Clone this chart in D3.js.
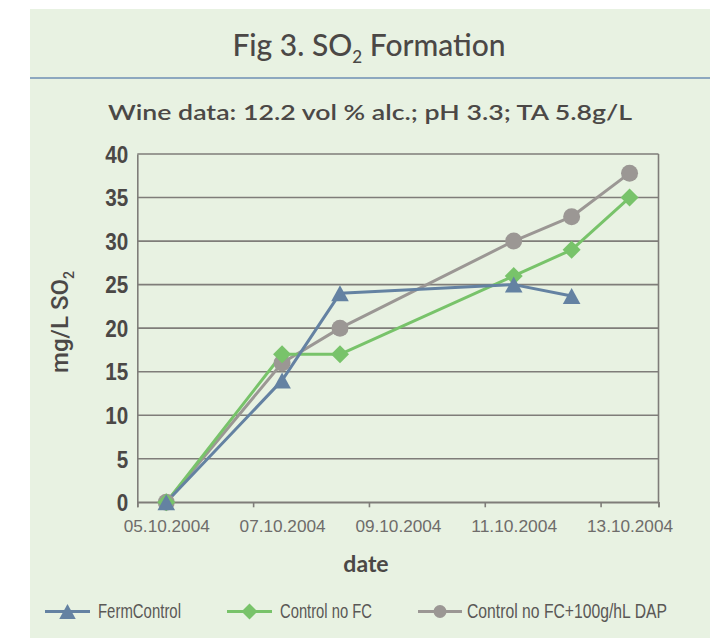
<!DOCTYPE html>
<html>
<head>
<meta charset="utf-8">
<script src="https://cdn.jsdelivr.net/npm/d3@7"></script>
<style>
  html, body { margin: 0; padding: 0; background: #ffffff; }
  svg { display: block; }
</style>
</head>
<body>
<svg id="chart" width="719" height="639"></svg>
<script>
// ---------- data ----------
const dates = ["05.10.2004", "07.10.2004", "08.10.2004", "11.10.2004", "12.10.2004", "13.10.2004"];
const fermControl = [0, 14, 24, 25, 23.7, null];
const controlNoFC = [0, 17, 17, 26, 29, 35];
const controlNoFCDAP = [0, 16, 20, 30, 32.8, 37.8];
const seriesNames = ["FermControl", "Control no FC", "Control no FC+100g/hL DAP"];
const xTickLabels = ["05.10.2004", "07.10.2004", "09.10.2004", "11.10.2004", "13.10.2004"];
const yTicks = [0, 5, 10, 15, 20, 25, 30, 35, 40];

// ---------- setup ----------
const parse = d3.timeParse("%d.%m.%Y");
const svg = d3.select("#chart");
const textColor = "#4b4846";
const colors = { ferm: "#6482a2", green: "#78c36a", gray: "#9b9794" };

// background panel
svg.append("rect").attr("x", 30).attr("y", 9).attr("width", 680).attr("height", 629)
  .attr("fill", "#e8f2e2");
svg.append("line").attr("x1", 30).attr("x2", 710).attr("y1", 78).attr("y2", 78)
  .attr("stroke", "#6f8fb3").attr("stroke-width", 1.5);

// title
const title = svg.append("text").attr("x", 369).attr("y", 56).attr("text-anchor", "middle")
  .attr("font-family", "Lato, 'Open Sans', sans-serif").attr("font-size", 30)
  .attr("font-weight", 500).attr("fill", textColor);
title.append("tspan").text("Fig 3. SO");
title.append("tspan").text("2").attr("font-size", 17).attr("dy", 7);
title.append("tspan").text(" Formation").attr("dy", -7);

svg.append("text").attr("x", 370).attr("y", 120).attr("text-anchor", "middle")
  .attr("font-family", "Lato, 'Open Sans', sans-serif").attr("font-size", 21)
  .attr("font-weight", 600).attr("fill", textColor)
  .attr("textLength", 524).attr("lengthAdjust", "spacingAndGlyphs")
  .text("Wine data: 12.2 vol % alc.; pH 3.3; TA 5.8g/L");

// ---------- scales ----------
const plot = { left: 137.3, right: 658.5, top: 154, bottom: 502.3 };
const firstDate = parse(dates[0]);
const lastDate = parse(dates[dates.length - 1]);
const x = d3.scaleTime()
  .domain([d3.timeHour.offset(firstDate, -12), d3.timeHour.offset(lastDate, 12)])
  .range([plot.left, plot.right]);
const y = d3.scaleLinear().domain([0, 40]).range([plot.bottom, plot.top]);

// gridlines
svg.append("g").selectAll("line").data(yTicks).join("line")
  .attr("x1", plot.left).attr("x2", plot.right)
  .attr("y1", d => y(d)).attr("y2", d => y(d))
  .attr("stroke", "#7f7d79").attr("stroke-width", 1.6);

// right border
svg.append("line").attr("x1", plot.right).attr("x2", plot.right)
  .attr("y1", plot.top).attr("y2", plot.bottom)
  .attr("stroke", "#7f7d79").attr("stroke-width", 1.6);

// y axis
const yAxis = svg.append("g").attr("transform", `translate(${plot.left},0)`)
  .call(d3.axisLeft(y).tickValues(yTicks).tickSize(0).tickPadding(9));
yAxis.select(".domain").attr("stroke", "#7f7d79").attr("stroke-width", 1.6);
yAxis.selectAll("text")
  .attr("font-family", "'Liberation Sans Narrow', 'Liberation Sans', Arial, sans-serif")
  .attr("font-size", 23).attr("font-weight", 700).attr("fill", textColor)
  .attr("dy", "0.36em")
  .attr("textLength", d => String(d).length * 11.5)
  .attr("lengthAdjust", "spacingAndGlyphs");

// x axis: tick marks at boundaries
const boundaryTicks = xTickLabels.map(s => d3.timeHour.offset(parse(s), -12))
  .concat([d3.timeHour.offset(lastDate, 12)]);
const xAxisMarks = svg.append("g").attr("transform", `translate(0,${plot.bottom})`)
  .call(d3.axisBottom(x).tickValues(boundaryTicks).tickSize(5).tickFormat(""));
xAxisMarks.select(".domain").attr("stroke", "#7f7d79").attr("stroke-width", 1.6);
xAxisMarks.selectAll(".tick line").attr("stroke", "#7f7d79").attr("stroke-width", 1.6);

// x axis labels
const xAxisLabels = svg.append("g").attr("transform", `translate(0,${plot.bottom})`)
  .call(d3.axisBottom(x).tickValues(xTickLabels.map(parse)).tickSize(0).tickPadding(18)
    .tickFormat(d3.timeFormat("%d.%m.%Y")));
xAxisLabels.select(".domain").remove();
xAxisLabels.selectAll("text")
  .attr("font-family", "'Liberation Sans', Arial, sans-serif")
  .attr("font-size", 16).attr("fill", "#6e6c6a")
  .attr("textLength", 86).attr("lengthAdjust", "spacingAndGlyphs");

// axis titles
const yTitle = svg.append("text")
  .attr("transform", `translate(68,322) rotate(-90)`)
  .attr("text-anchor", "middle")
  .attr("font-family", "Roboto, 'Liberation Sans', sans-serif")
  .attr("font-size", 24).attr("font-weight", 500).attr("fill", textColor);
yTitle.append("tspan").text("mg/L SO");
yTitle.append("tspan").text("2").attr("font-size", 14).attr("dy", 6);

svg.append("text").attr("x", 366).attr("y", 572).attr("text-anchor", "middle")
  .attr("font-family", "Lato, 'Open Sans', sans-serif")
  .attr("font-size", 23).attr("font-weight", 700).attr("fill", textColor)
  .text("date");

// ---------- series ----------
const markerPath = {
  triangle: (s) => `M0,${-s / 2}L${s * 0.55},${s / 2}L${-s * 0.55},${s / 2}Z`,
  diamond: (s) => `M0,${-s / 2}L${s / 2},0L0,${s / 2}L${-s / 2},0Z`,
  circle: (s) => d3.symbol(d3.symbolCircle, Math.PI * (s / 2) * (s / 2))()
};

const series = [
  { name: seriesNames[2], values: controlNoFCDAP, color: colors.gray, marker: "circle", size: 17 },
  { name: seriesNames[1], values: controlNoFC, color: colors.green, marker: "diamond", size: 18 },
  { name: seriesNames[0], values: fermControl, color: colors.ferm, marker: "triangle", size: 16 }
];

const line = d3.line()
  .defined(d => d.v !== null)
  .x(d => x(d.date)).y(d => y(d.v));

series.forEach(s => {
  s.points = dates.map((d, i) => ({ date: parse(d), v: s.values[i] }));
});

series.forEach(s => {
  svg.append("path").datum(s.points)
    .attr("d", line).attr("fill", "none")
    .attr("stroke", s.color).attr("stroke-width", 3).attr("stroke-linejoin", "round");
});
series.forEach(s => {
  svg.append("g").selectAll("path").data(s.points.filter(p => p.v !== null)).join("path")
    .attr("transform", p => `translate(${x(p.date)},${y(p.v)})`)
    .attr("d", markerPath[s.marker](s.size))
    .attr("fill", s.color);
});

// ---------- legend ----------
const legendY = 611.5;
const legendItems = [
  { name: seriesNames[0], color: colors.ferm, marker: "triangle", size: 15, x1: 45, x2: 90, tx: 98, tw: 83 },
  { name: seriesNames[1], color: colors.green, marker: "diamond", size: 16, x1: 227, x2: 272, tx: 280, tw: 92 },
  { name: seriesNames[2], color: colors.gray, marker: "circle", size: 13, x1: 418, x2: 462, tx: 467, tw: 200 }
];
const lg = svg.append("g");
legendItems.forEach(it => {
  lg.append("line").attr("x1", it.x1).attr("x2", it.x2).attr("y1", legendY).attr("y2", legendY)
    .attr("stroke", it.color).attr("stroke-width", 3);
  lg.append("path").attr("transform", `translate(${(it.x1 + it.x2) / 2},${legendY})`)
    .attr("d", markerPath[it.marker](it.size)).attr("fill", it.color);
  const t = lg.append("text").attr("x", 0).attr("y", 0)
    .attr("font-family", "'Liberation Sans Narrow', 'Liberation Sans', sans-serif")
    .attr("font-size", 21).attr("fill", "#5a5856")
    .text(it.name);
  const natural = t.node().getComputedTextLength();
  t.attr("transform", `translate(${it.tx},618.3) scale(${it.tw / natural},1)`);
});
</script>
</body>
</html>
